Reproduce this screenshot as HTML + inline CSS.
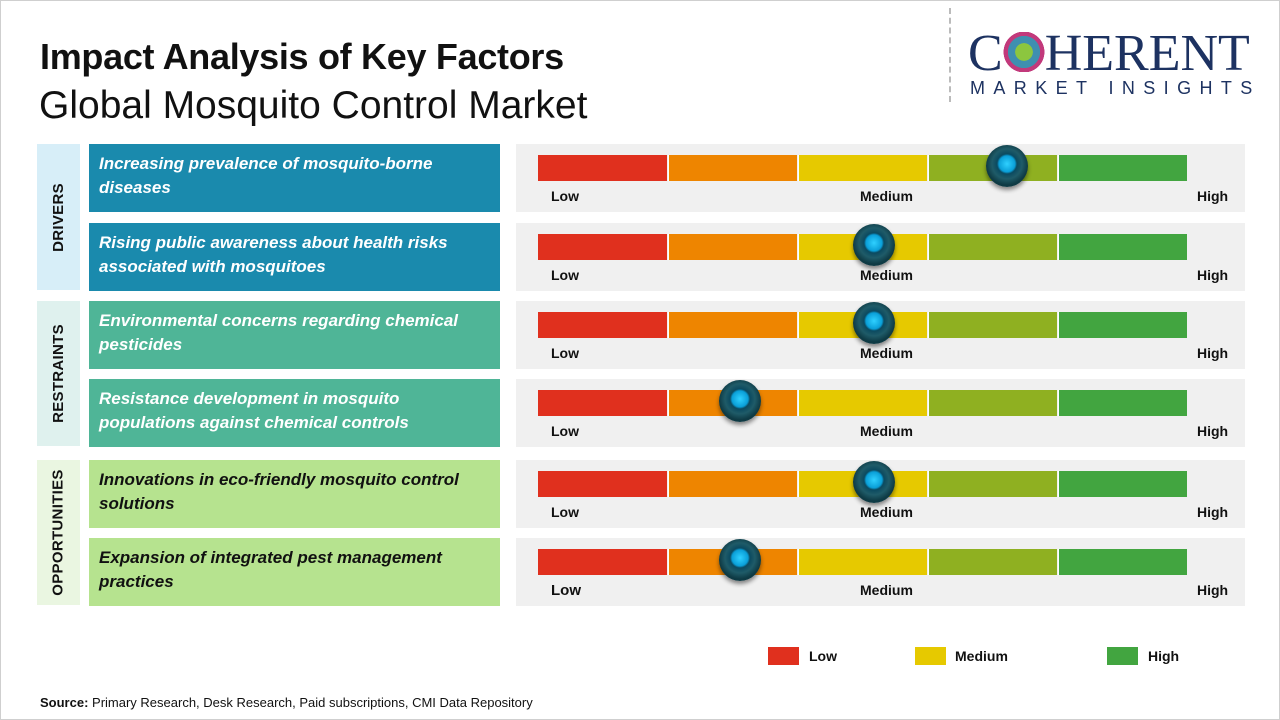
<!DOCTYPE html>
<html><head><meta charset="utf-8"><style>
*{margin:0;padding:0;box-sizing:border-box}
body{width:1280px;height:720px;background:#fff;position:relative;overflow:hidden;font-family:"Liberation Sans",sans-serif}
.a{position:absolute}
.t1{left:40px;top:36px;font-size:36px;font-weight:bold;color:#111;letter-spacing:-0.3px}
.t2{left:39px;top:84px;font-size:39px;color:#111;letter-spacing:0px}
.cat{width:43px;display:flex;align-items:center;justify-content:center}
.cat span{transform:rotate(-90deg);white-space:nowrap;font-weight:bold;font-size:15px;color:#111;letter-spacing:0.3px}
.box{left:89px;width:411px;height:68px;padding:8px 10px;font-size:17px;font-weight:bold;font-style:italic;line-height:24px;color:#fff}
.pan{left:516px;width:729px;height:68px;background:#f0f0f0}
.seg{position:absolute;top:11px;height:26px;width:129px}
.lab{position:absolute;top:44px;font-size:14px;font-weight:bold;color:#111}
.knob{position:absolute;top:1px;width:42px;height:42px;border-radius:50%;background:radial-gradient(circle at 50% 45%,#2fd0ff 0,#0a9fd8 8px,#0b4a60 10px,#1f5b68 15px,#0e3a44 21px);box-shadow:0 3px 4px rgba(0,0,0,.45)}
.lg{top:647px;width:31px;height:18px}
.lt{top:648px;font-size:14px;font-weight:bold;color:#111}
</style></head><body>
<div class="a" style="left:0;top:0;width:1280px;height:720px;border:1px solid #cfcfcf"></div>
<div class="a t1">Impact Analysis of Key Factors</div>
<div class="a t2">Global Mosquito Control Market</div>
<div class="a" style="left:949px;top:8px;height:94px;border-left:2px dashed #bbb"></div>
<div class="a" style="left:968px;top:27px;font-family:'Liberation Serif',serif;font-size:52px;color:#1d3261;letter-spacing:0px;line-height:54px">C<span style="display:inline-block;width:42px;height:40px;vertical-align:-2px;background:radial-gradient(circle,#8cc63f 0 30%,#3f8fb0 31% 55%,#c2397b 56% 70%,transparent 71%)"></span>HERENT</div>
<div class="a" style="left:970px;top:78px;font-size:18px;color:#1d3261;letter-spacing:8.4px">MARKET INSIGHTS</div>

<div class="a cat" style="left:37px;top:144px;height:146px;background:#d7eef8"><span>DRIVERS</span></div>
<div class="a cat" style="left:37px;top:301px;height:145px;background:#dff1ee"><span>RESTRAINTS</span></div>
<div class="a cat" style="left:37px;top:460px;height:145px;background:#eaf6e1"><span>OPPORTUNITIES</span></div>

<div class="a box" style="top:144px;background:#1a8aad">Increasing prevalence of mosquito-borne diseases</div>
<div class="a box" style="top:223px;background:#1a8aad">Rising public awareness about health risks associated with mosquitoes</div>
<div class="a box" style="top:301px;background:#4fb597">Environmental concerns regarding chemical pesticides</div>
<div class="a box" style="top:379px;background:#4fb597">Resistance development in mosquito populations against chemical controls</div>
<div class="a box" style="top:460px;background:#b6e38f;color:#111">Innovations in eco-friendly mosquito control solutions</div>
<div class="a box" style="top:538px;background:#b6e38f;color:#111">Expansion of integrated pest management practices</div>

<div class="a pan" style="top:144px"><div class="seg" style="left:22px;background:#e0301e"></div><div class="seg" style="left:152px;background:#ee8500;border-left:1px solid #fff"></div><div class="seg" style="left:282px;background:#e6c900;border-left:1px solid #fff"></div><div class="seg" style="left:412px;background:#8fb021;border-left:1px solid #fff"></div><div class="seg" style="left:542px;background:#42a540;border-left:1px solid #fff"></div><div class="lab" style="left:35px">Low</div><div class="lab" style="left:344px">Medium</div><div class="lab" style="left:681px">High</div><div class="knob" style="left:470px"></div></div>
<div class="a pan" style="top:223px"><div class="seg" style="left:22px;background:#e0301e"></div><div class="seg" style="left:152px;background:#ee8500;border-left:1px solid #fff"></div><div class="seg" style="left:282px;background:#e6c900;border-left:1px solid #fff"></div><div class="seg" style="left:412px;background:#8fb021;border-left:1px solid #fff"></div><div class="seg" style="left:542px;background:#42a540;border-left:1px solid #fff"></div><div class="lab" style="left:35px">Low</div><div class="lab" style="left:344px">Medium</div><div class="lab" style="left:681px">High</div><div class="knob" style="left:337px"></div></div>
<div class="a pan" style="top:301px"><div class="seg" style="left:22px;background:#e0301e"></div><div class="seg" style="left:152px;background:#ee8500;border-left:1px solid #fff"></div><div class="seg" style="left:282px;background:#e6c900;border-left:1px solid #fff"></div><div class="seg" style="left:412px;background:#8fb021;border-left:1px solid #fff"></div><div class="seg" style="left:542px;background:#42a540;border-left:1px solid #fff"></div><div class="lab" style="left:35px">Low</div><div class="lab" style="left:344px">Medium</div><div class="lab" style="left:681px">High</div><div class="knob" style="left:337px"></div></div>
<div class="a pan" style="top:379px"><div class="seg" style="left:22px;background:#e0301e"></div><div class="seg" style="left:152px;background:#ee8500;border-left:1px solid #fff"></div><div class="seg" style="left:282px;background:#e6c900;border-left:1px solid #fff"></div><div class="seg" style="left:412px;background:#8fb021;border-left:1px solid #fff"></div><div class="seg" style="left:542px;background:#42a540;border-left:1px solid #fff"></div><div class="lab" style="left:35px">Low</div><div class="lab" style="left:344px">Medium</div><div class="lab" style="left:681px">High</div><div class="knob" style="left:203px"></div></div>
<div class="a pan" style="top:460px"><div class="seg" style="left:22px;background:#e0301e"></div><div class="seg" style="left:152px;background:#ee8500;border-left:1px solid #fff"></div><div class="seg" style="left:282px;background:#e6c900;border-left:1px solid #fff"></div><div class="seg" style="left:412px;background:#8fb021;border-left:1px solid #fff"></div><div class="seg" style="left:542px;background:#42a540;border-left:1px solid #fff"></div><div class="lab" style="left:35px">Low</div><div class="lab" style="left:344px">Medium</div><div class="lab" style="left:681px">High</div><div class="knob" style="left:337px"></div></div>
<div class="a pan" style="top:538px"><div class="seg" style="left:22px;background:#e0301e"></div><div class="seg" style="left:152px;background:#ee8500;border-left:1px solid #fff"></div><div class="seg" style="left:282px;background:#e6c900;border-left:1px solid #fff"></div><div class="seg" style="left:412px;background:#8fb021;border-left:1px solid #fff"></div><div class="seg" style="left:542px;background:#42a540;border-left:1px solid #fff"></div><div class="lab" style="left:35px;font-size:15px">Low</div><div class="lab" style="left:344px">Medium</div><div class="lab" style="left:681px">High</div><div class="knob" style="left:203px"></div></div>

<div class="a lg" style="left:768px;background:#e0301e"></div><div class="a lt" style="left:809px">Low</div>
<div class="a lg" style="left:915px;background:#e6c900"></div><div class="a lt" style="left:955px">Medium</div>
<div class="a lg" style="left:1107px;background:#42a540"></div><div class="a lt" style="left:1148px">High</div>

<div class="a" style="left:40px;top:695px;font-size:13px;color:#111"><b>Source:</b> Primary Research, Desk Research, Paid subscriptions, CMI Data Repository</div>
</body></html>
